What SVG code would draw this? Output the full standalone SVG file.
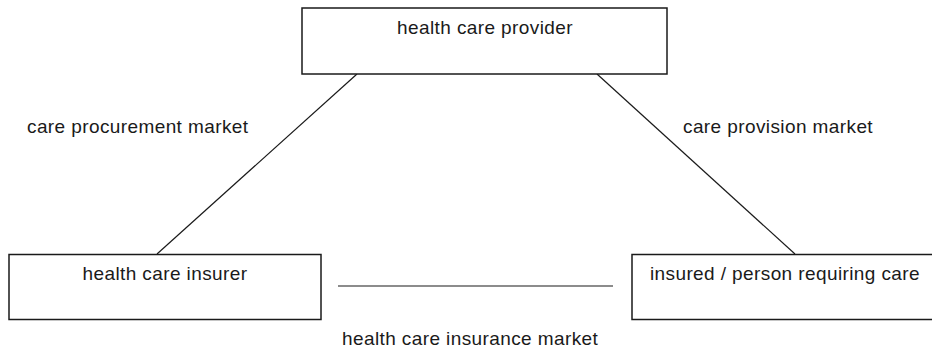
<svg xmlns="http://www.w3.org/2000/svg" width="932" height="349" viewBox="0 0 932 349">
  <style>
    .box { fill: #ffffff; stroke: #1a1a1a; stroke-width: 1.5; }
    .link { stroke: #1a1a1a; stroke-width: 1.2; fill: none; }
    text { font-family: "Liberation Sans", Arial, sans-serif; font-size: 19px; fill: #1a1a1a; letter-spacing: 0.4px; }
    .c { text-anchor: middle; }
  </style>
  <rect width="932" height="349" fill="#ffffff"/>

  <!-- market relations between the three parties -->
  <g id="connectors">
    <line class="link" x1="357" y1="74" x2="157" y2="254"/>
    <line class="link" x1="597" y1="74" x2="795" y2="254"/>
    <line class="link" x1="338" y1="286" x2="613" y2="286"/>
    <text x="27" y="133">care procurement market</text>
    <text x="683" y="133">care provision market</text>
    <text x="342" y="345">health care insurance market</text>
  </g>

  <g id="provider">
    <rect class="box" x="302" y="8" width="365" height="66"/>
    <text class="c" x="485" y="34">health care provider</text>
  </g>

  <g id="insurer">
    <rect class="box" x="9" y="254.5" width="312" height="65"/>
    <text class="c" x="165" y="280">health care insurer</text>
  </g>

  <g id="insured">
    <rect class="box" x="632" y="254.5" width="306" height="65"/>
    <text class="c" x="785" y="279.5">insured / person requiring care</text>
  </g>
</svg>
